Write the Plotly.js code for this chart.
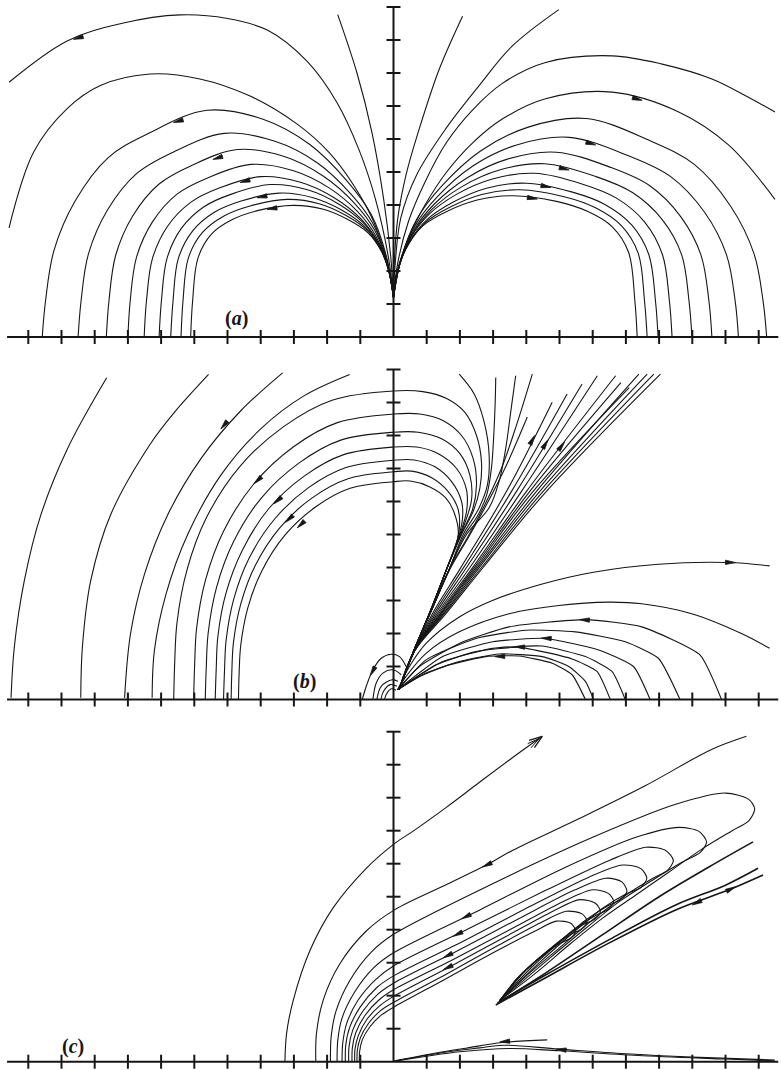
<!DOCTYPE html>
<html>
<head>
<meta charset="utf-8">
<script src="https://cdn.plot.ly/plotly-3.0.1.min.js"></script>
<style>
  html, body { margin: 0; padding: 0; background: #ffffff; }
  #chart { width: 781px; height: 1070px; }
</style>
</head>
<body>
<div id="chart"></div>
<script>
// ---------- Panel (a): streamlines leaving the point (0, 1.2) ----------
const streamsA_axisNear = [
  [[-1.68,9.77],[-1.1,8.0],[-0.65,6.2],[-0.3,4.2],[-0.08,2.4],[0,1.2]],
  [[2.08,9.72],[1.38,8.12],[0.78,6.32],[0.38,4.92],[0.13,3.61],[0.02,2.2],[0,1.2]],
  [[4.98,9.92],[3.58,8.82],[2.58,7.62],[1.58,6.32],[0.7,4.92],[0.22,3.61],[0.05,2.2],[0,1.2]]
];
const streamsA_left = [
  [[-11.58,7.72],[-9.83,8.97],[-8.2,9.5],[-6.43,9.76],[-5.0,9.65],[-3.8,9.3],[-2.6,8.35],[-1.7,7.1],[-1.05,5.7],[-0.55,4.2],[-0.15,2.4],[0,1.2]],
  [[-11.58,3.31],[-10.83,5.62],[-9.83,6.92],[-8.83,7.62],[-7.33,7.97],[-5.83,7.82],[-4.32,7.3],[-2.9,6.45],[-1.95,5.6],[-1.2,4.6],[-0.6,3.5],[-0.18,2.2],[0,1.2]],
  [[-10.58,0],[-10.48,1.1],[-10.23,2.61],[-9.59,4.12],[-8.6,5.43],[-7.36,6.18],[-5.62,6.87],[-3.93,6.6],[-2.53,5.84],[-1.41,4.74],[-0.67,3.71],[-0.22,2.47],[0,1.2]],
  [[-9.5,0],[-9.41,1.1],[-9.19,2.51],[-8.62,3.84],[-7.74,4.95],[-6.64,5.6],[-5.1,6.17],[-3.57,5.93],[-2.3,5.28],[-1.28,4.33],[-0.61,3.42],[-0.2,2.32],[0,1.2]],
  [[-8.65,0],[-8.57,1.1],[-8.37,2.47],[-7.86,3.66],[-7.07,4.63],[-6.08,5.2],[-4.7,5.68],[-3.29,5.47],[-2.12,4.88],[-1.18,4.06],[-0.56,3.22],[-0.19,2.23],[0,1.2]],
  [[-8.0,0],[-7.93,1.1],[-7.74,2.42],[-7.26,3.49],[-6.52,4.33],[-5.6,4.82],[-4.3,5.23],[-3.01,5.04],[-1.94,4.52],[-1.08,3.8],[-0.52,3.04],[-0.17,2.14],[0,1.2]],
  [[-7.51,0],[-7.44,1.1],[-7.26,2.38],[-6.81,3.35],[-6.11,4.08],[-5.23,4.52],[-4.0,4.86],[-2.8,4.69],[-1.8,4.23],[-1.0,3.6],[-0.48,2.89],[-0.16,2.07],[0,1.2]],
  [[-7.06,0],[-6.99,1.1],[-6.82,2.39],[-6.39,3.29],[-5.72,3.94],[-4.88,4.33],[-3.7,4.62],[-2.59,4.46],[-1.67,4.04],[-0.93,3.48],[-0.44,2.81],[-0.15,2.04],[0,1.2]],
  [[-6.71,0],[-6.64,1.1],[-6.48,2.38],[-6.06,3.2],[-5.41,3.77],[-4.59,4.12],[-3.45,4.36],[-2.42,4.22],[-1.55,3.84],[-0.86,3.34],[-0.41,2.71],[-0.14,1.99],[0,1.2]],
  [[-6.4,0],[-6.34,1.1],[-6.18,2.39],[-5.76,3.16],[-5.12,3.66],[-4.32,3.97],[-3.2,4.17],[-2.24,4.04],[-1.44,3.69],[-0.8,3.24],[-0.38,2.65],[-0.13,1.98],[0,1.2]],
  [[-6.11,0],[-6.05,1.1],[-5.89,2.39],[-5.49,3.11],[-4.87,3.55],[-4.1,3.83],[-3.02,3.99],[-2.11,3.87],[-1.36,3.55],[-0.76,3.15],[-0.36,2.59],[-0.12,1.96],[0,1.2]]
];
const streamsA_right = [
  [[0,1.2],[0.12,2.2],[0.45,3.5],[0.95,4.7],[1.6,5.9],[2.4,6.9],[3.3,7.7],[4.58,8.32],[6.59,8.52],[8.09,8.27],[9.59,7.82],[10.59,7.32],[11.49,6.82]],
  [[0,1.2],[0.12,2.0],[0.45,3.0],[0.95,4.0],[1.6,5.0],[2.4,5.9],[3.3,6.62],[4.58,7.22],[6.59,7.42],[8.59,6.82],[10.09,5.82],[11.49,4.17]],
  [[11.24,0],[11.13,1.1],[10.86,2.52],[10.15,3.97],[9.06,5.23],[7.7,5.96],[5.8,6.62],[4.06,6.36],[2.61,5.63],[1.45,4.57],[0.7,3.57],[0.23,2.38],[0,1.2]],
  [[10.39,0],[10.29,1.1],[10.03,2.49],[9.37,3.78],[8.35,4.86],[7.08,5.49],[5.3,6.05],[3.71,5.82],[2.39,5.18],[1.33,4.26],[0.64,3.36],[0.21,2.29],[0,1.2]],
  [[9.59,0],[9.5,1.1],[9.26,2.49],[8.65,3.65],[7.71,4.59],[6.54,5.14],[4.9,5.6],[3.43,5.39],[2.21,4.82],[1.23,4.03],[0.59,3.2],[0.2,2.23],[0,1.2]],
  [[8.99,0],[8.9,1.1],[8.68,2.49],[8.1,3.55],[7.21,4.37],[6.1,4.86],[4.55,5.25],[3.19,5.06],[2.05,4.55],[1.14,3.85],[0.55,3.08],[0.18,2.18],[0,1.2]],
  [[8.39,0],[8.31,1.1],[8.1,2.5],[7.56,3.49],[6.73,4.2],[5.7,4.63],[4.25,4.96],[2.98,4.79],[1.91,4.33],[1.06,3.71],[0.51,2.99],[0.17,2.15],[0,1.2]],
  [[7.97,0],[7.89,1.1],[7.69,2.5],[7.18,3.39],[6.38,4.01],[5.39,4.39],[4.0,4.66],[2.8,4.51],[1.8,4.09],[1.0,3.55],[0.48,2.88],[0.16,2.11],[0,1.2]],
  [[7.64,0],[7.56,1.1],[7.37,2.54],[6.87,3.37],[6.1,3.91],[5.14,4.25],[3.8,4.46],[2.66,4.32],[1.71,3.94],[0.95,3.46],[0.46,2.83],[0.15,2.1],[0,1.2]],
  [[7.34,0],[7.27,1.1],[7.08,2.57],[6.59,3.34],[5.84,3.81],[4.91,4.11],[3.6,4.28],[2.52,4.15],[1.62,3.81],[0.9,3.38],[0.43,2.78],[0.14,2.1],[0,1.2]]
];
// arrows: [head x, head y, tail x, tail y]
const arrowsA = [
  [-9.64,9.02,-9.2,9.15], [-6.63,6.5,-6.2,6.62], [-5.44,5.38,-5.0,5.52],
  [-4.62,4.68,-4.2,4.8], [-4.11,4.22,-3.7,4.3], [-3.81,3.87,-3.4,3.93],
  [7.49,7.17,7.05,7.3], [6.09,5.82,5.65,5.95], [5.29,5.06,4.85,5.17],
  [4.74,4.53,4.3,4.62], [4.33,4.18,3.9,4.25]
];

// ---------- Panel (b) ----------
const streamsB_outer = [
  [[-8.64,9.75],[-9.82,7.6],[-10.62,5.6],[-11.12,3.6],[-11.42,1.6],[-11.52,0.05]],
  [[-5.57,9.85],[-6.6,8.7],[-7.32,7.75],[-8.52,5.6],[-9.12,3.6],[-9.37,1.6],[-9.42,0.05]],
  [[-3.34,9.9],[-4.6,8.75],[-5.8,7.3],[-6.8,5.6],[-7.5,3.8],[-7.92,2.0],[-8.1,0.05]],
  [[-1.32,9.85],[-2.7,9.2],[-4.0,8.2],[-5.2,6.8],[-6.2,5.0],[-6.85,3.2],[-7.2,1.5],[-7.27,0.05]]
];
const streamsB_arcs = [
  [[0.17,0.3],[0.6,1.45],[1.1,2.65],[1.6,3.95],[2.05,5.0],[2.4,5.7],[2.6,6.4],[2.65,7.2],[2.5,8.0],[2.15,8.7],[1.6,9.12],[0.88,9.33],[0,9.35],[-1.85,9.07],[-3.31,8.27],[-4.63,7.06],[-5.63,5.52],[-6.22,3.93],[-6.52,2.34],[-6.59,1.12],[-6.62,0]],
  [[0.17,0.3],[0.6,1.45],[1.1,2.65],[1.6,3.95],[2.03,5.0],[2.38,5.75],[2.5,6.5],[2.4,7.3],[2.05,8.0],[1.5,8.45],[0.8,8.65],[0,8.65],[-1.69,8.39],[-3.01,7.66],[-4.21,6.53],[-5.12,5.1],[-5.66,3.63],[-5.93,2.16],[-5.99,1.04],[-6.02,0]],
  [[0.17,0.3],[0.6,1.45],[1.1,2.65],[1.6,3.95],[2.02,5.0],[2.35,6.05],[2.3,6.8],[2.0,7.45],[1.45,7.9],[0.75,8.1],[0,8.1],[-1.59,7.86],[-2.84,7.17],[-3.97,6.12],[-4.82,4.78],[-5.33,3.4],[-5.58,2.03],[-5.64,0.97],[-5.67,0]],
  [[0.17,0.3],[0.6,1.45],[1.1,2.65],[1.6,3.95],[2.0,5.0],[2.2,5.7],[2.2,6.35],[1.9,7.0],[1.35,7.45],[0.7,7.65],[0,7.65],[-1.5,7.42],[-2.69,6.77],[-3.76,5.78],[-4.56,4.51],[-5.05,3.21],[-5.29,1.91],[-5.34,0.92],[-5.37,0]],
  [[0.17,0.3],[0.6,1.45],[1.1,2.65],[1.6,3.95],[1.98,5.0],[2.08,5.5],[2.05,6.0],[1.75,6.6],[1.25,7.05],[0.62,7.26],[0,7.25],[-1.43,7.03],[-2.56,6.42],[-3.58,5.47],[-4.35,4.28],[-4.81,3.05],[-5.04,1.81],[-5.09,0.87],[-5.12,0]],
  [[0.17,0.3],[0.6,1.45],[1.1,2.65],[1.6,3.95],[1.96,5.0],[1.95,5.75],[1.65,6.3],[1.15,6.72],[0.55,6.92],[0,6.9],[-1.37,6.69],[-2.45,6.11],[-3.42,5.21],[-4.16,4.07],[-4.6,2.9],[-4.82,1.73],[-4.87,0.83],[-4.89,0]],
  [[0.17,0.3],[0.6,1.45],[1.1,2.65],[1.6,3.95],[1.95,5.0],[1.85,5.6],[1.58,6.1],[1.08,6.45],[0.5,6.62],[0,6.6],[-1.31,6.4],[-2.34,5.84],[-3.27,4.98],[-3.97,3.89],[-4.39,2.77],[-4.6,1.65],[-4.65,0.79],[-4.67,0]]
];
const streamsB_bent = [
  [[0.17,0.3],[0.6,1.45],[1.12,2.65],[1.68,3.95],[2.1,5.0],[2.58,5.81],[2.83,6.51],[2.88,7.41],[2.73,8.41],[2.43,9.26],[1.98,9.86]],
  [[0.17,0.3],[0.6,1.45],[1.12,2.65],[1.68,3.95],[2.15,5.0],[2.53,5.56],[2.81,6.21],[2.95,7.01],[3.02,8.01],[3.06,8.91],[3.08,9.76]],
  [[0.17,0.3],[0.6,1.45],[1.12,2.65],[1.68,3.95],[2.2,5.0],[2.88,5.81],[3.18,6.61],[3.38,7.61],[3.53,8.71],[3.68,9.81]],
  [[0.17,0.3],[0.6,1.45],[1.12,2.65],[1.68,3.95],[2.25,4.95],[2.75,5.9],[3.25,7.0],[3.7,8.3],[4.18,9.86]],
  [[0.17,0.3],[0.6,1.45],[1.12,2.65],[1.7,3.95],[2.25,4.9],[2.8,5.9],[3.4,7.1],[4.03,8.56]]
];
const streamsB_fan = [
  [[0.17,0.3],[0.62,1.45],[1.2,2.65],[2.0,3.95],[3.4,6.3],[4.78,9.01]],
  [[0.17,0.3],[0.62,1.45],[1.25,2.65],[2.1,3.98],[3.55,6.3],[5.23,9.26]],
  [[0.17,0.3],[0.62,1.45],[1.3,2.65],[2.2,4.0],[3.7,6.3],[5.68,9.56]],
  [[0.17,0.3],[0.62,1.45],[1.33,2.62],[2.3,4.0],[3.85,6.3],[6.14,9.81]],
  [[0.17,0.3],[0.62,1.45],[1.36,2.6],[2.4,4.02],[4.0,6.3],[6.69,9.81]],
  [[0.17,0.3],[0.62,1.45],[1.4,2.6],[2.45,4.02],[4.1,6.3],[6.85,9.6]],
  [[0.17,0.3],[0.62,1.45],[1.43,2.6],[2.5,4.02],[4.2,6.3],[7.1,9.45]],
  [[0.17,0.3],[0.62,1.45],[1.46,2.6],[2.55,4.02],[4.3,6.3],[7.39,9.86]],
  [[0.17,0.3],[0.62,1.45],[1.5,2.6],[2.6,4.02],[4.4,6.3],[7.64,9.86]],
  [[0.17,0.3],[0.62,1.45],[1.53,2.6],[2.65,4.0],[4.5,6.3],[7.84,9.86]],
  [[0.17,0.3],[0.62,1.45],[1.58,2.6],[2.7,4.0],[4.6,6.3],[8.04,9.86]]
];
const streamsB_low = [
  [[0.13,0.3],[0.48,1.0],[0.98,1.7],[1.98,2.5],[2.98,3.0],[4.48,3.5],[5.98,3.85],[7.98,4.1],[10.08,4.15],[11.33,4.05]],
  [[0.13,0.3],[0.38,0.7],[0.98,1.4],[1.98,2.05],[3.48,2.6],[4.98,2.85],[6.48,2.95],[7.48,2.9],[8.98,2.6],[10.48,2.0],[11.33,1.55]]
];
const streamsB_return = [
  [[0.13,0.3],[0.78,1.0],[1.98,1.7],[3.48,2.2],[5.78,2.42],[7.48,2.2],[9.23,1.35],[9.88,0]],
  [[0.13,0.3],[0.98,1.2],[2.48,1.85],[3.98,2.1],[5.48,2.05],[6.98,1.75],[7.98,1.25],[8.63,0]],
  [[0.13,0.3],[1.48,1.3],[2.98,1.75],[4.58,1.85],[6.18,1.5],[7.23,1.0],[7.73,0]],
  [[0.13,0.3],[1.48,1.15],[2.98,1.55],[4.48,1.62],[5.78,1.3],[6.58,0.85],[6.98,0]],
  [[0.13,0.3],[1.28,1.05],[2.48,1.45],[3.78,1.58],[5.38,1.23],[6.13,0.85],[6.53,0]],
  [[0.13,0.3],[0.98,0.8],[1.98,1.15],[3.18,1.38],[4.48,1.3],[5.28,1.0],[5.78,0.55],[6.03,0]],
  [[0.13,0.3],[0.78,0.7],[1.68,1.05],[2.78,1.3],[3.78,1.32],[4.78,1.1],[5.38,0.75],[5.78,0]]
];
const streamsB_core = [
  [[0.38,1.0],[0.18,1.3],[-0.07,1.37],[-0.37,1.25],[-0.62,0.9],[-0.82,0.4],[-0.94,0]],
  [[0.23,0.75],[-0.02,0.9],[-0.32,0.8],[-0.52,0.5],[-0.62,0]],
  [[0.13,0.55],[-0.04,0.6],[-0.37,0.4],[-0.5,0]],
  [[0.1,0.4],[-0.1,0.45],[-0.3,0.25],[-0.38,0]],
  [[0.08,0.28],[-0.08,0.32],[-0.22,0.15],[-0.27,0]]
];
const arrowsB = [
  [-5.2,8.2,-4.95,8.5], [-4.2,6.54,-3.9,6.82], [-3.6,5.93,-3.3,6.2], [-3.25,5.37,-2.95,5.65],
  [-2.9,5.2,-2.6,5.48],
  [4.25,8.0,4.05,7.62], [4.65,7.87,4.42,7.48], [5.15,7.8,4.85,7.4],
  [10.3,4.15,9.85,4.16], [5.6,2.42,6.05,2.4], [4.45,1.86,4.9,1.84], [3.65,1.6,4.1,1.58], [3.05,1.3,3.5,1.31],
  [-0.7,0.72,-0.55,1.0]
];

// ---------- Panel (c) ----------
const streamsC_open = [
  [[-3.27,0],[-3.22,0.86],[-3.02,1.86],[-2.52,3.36],[-1.82,4.66],[-0.82,5.86],[0.03,6.61],[0.58,6.98],[1.58,7.7],[2.58,8.46],[3.58,9.21],[4.48,9.86]],
  [[-2.34,0],[-2.32,0.86],[-2.12,1.86],[-1.62,2.96],[-0.82,3.96],[0.03,4.6],[1.58,5.36],[2.78,5.95],[3.58,6.4],[5.58,7.36],[7.58,8.36],[9.58,9.46],[10.63,9.86]]
];
const streamsC_loops = [
  [[-1.9,0],[-1.88,0.73],[-1.73,1.54],[-1.31,2.47],[-0.67,3.32],[0,3.86],[3.0,5.4],[6.0,6.8],[8.5,7.8],[10.0,8.14],[10.7,7.95],[10.88,7.66],[10.7,7.3],[10.2,7.0],[9.3,6.45],[8.3,5.75],[7.3,5.05],[6.3,4.35],[5.3,3.55],[4.3,2.7],[3.2,1.85]],
  [[-1.7,0],[-1.68,0.63],[-1.55,1.32],[-1.17,2.11],[-0.6,2.84],[0,3.3],[2.6,4.6],[5.2,5.9],[7.3,6.8],[8.6,7.1],[9.2,6.98],[9.43,6.66],[9.25,6.35],[8.7,6.05],[7.8,5.5],[6.8,4.85],[5.8,4.05],[4.6,3.05],[3.2,1.85]],
  [[-1.55,0],[-1.53,0.55],[-1.41,1.16],[-1.07,1.86],[-0.54,2.49],[0,2.9],[2.3,4.05],[4.6,5.2],[6.5,6.1],[7.6,6.5],[8.2,6.4],[8.43,6.1],[8.25,5.8],[7.8,5.55],[7.0,5.05],[6.0,4.3],[5.0,3.45],[4.0,2.6],[3.2,1.85]],
  [[-1.45,0],[-1.44,0.49],[-1.32,1.04],[-1.0,1.66],[-0.51,2.24],[0,2.6],[2.1,3.65],[4.1,4.7],[5.9,5.6],[6.9,5.96],[7.45,5.85],[7.63,5.56],[7.45,5.28],[7.0,5.08],[6.3,4.65],[5.4,3.9],[4.5,3.1],[3.2,1.85]],
  [[-1.35,0],[-1.34,0.45],[-1.23,0.95],[-0.93,1.52],[-0.47,2.05],[0,2.38],[1.9,3.35],[3.8,4.35],[5.45,5.2],[6.4,5.56],[6.88,5.45],[7.03,5.16],[6.85,4.92],[6.45,4.72],[5.8,4.3],[5.0,3.62],[4.2,2.9],[3.2,1.85]],
  [[-1.25,0],[-1.24,0.41],[-1.14,0.87],[-0.86,1.4],[-0.44,1.87],[0,2.18],[1.8,3.1],[3.6,4.05],[5.1,4.85],[6.0,5.21],[6.47,5.1],[6.63,4.86],[6.47,4.62],[6.1,4.44],[5.5,4.05],[4.8,3.48],[4.0,2.78],[3.2,1.85]],
  [[-1.17,0],[-1.16,0.38],[-1.06,0.79],[-0.81,1.27],[-0.41,1.7],[0,1.98],[1.7,2.88],[3.4,3.8],[4.8,4.56],[5.6,4.91],[6.08,4.8],[6.23,4.56],[6.08,4.33],[5.7,4.15],[5.2,3.8],[4.6,3.33],[3.9,2.7],[3.2,1.85]],
  [[-1.1,0],[-1.09,0.34],[-1.0,0.72],[-0.76,1.15],[-0.39,1.55],[0,1.8],[1.6,2.66],[3.2,3.55],[4.5,4.25],[5.2,4.56],[5.68,4.48],[5.83,4.26],[5.68,4.03],[5.35,3.86],[4.9,3.55],[4.4,3.15],[3.8,2.6],[3.2,1.85]],
  [[-1.03,0],[-1.02,0.31],[-0.94,0.66],[-0.71,1.06],[-0.36,1.42],[0,1.65],[1.5,2.47],[3.0,3.3],[4.25,3.95],[4.9,4.26],[5.35,4.19],[5.48,3.96],[5.33,3.74],[5.0,3.58],[4.6,3.3],[4.2,2.98],[3.7,2.5],[3.2,1.85]]
];
const streamsC_bundle = [
  [[3.08,1.72],[4.5,2.5],[6.5,3.6],[8.5,4.6],[10.08,5.2],[11.13,5.66]],
  [[3.13,1.78],[4.5,2.58],[6.5,3.7],[8.5,4.75],[10.0,5.35],[10.98,5.86]],
  [[3.2,1.82],[4.6,2.7],[6.3,3.85],[8.0,5.0],[9.5,5.9],[10.83,6.66]]
];
const streamsC_floor = [
  [[0.03,0.03],[1.2,0.25],[2.18,0.41],[3.28,0.58],[4.63,0.66]],
  [[0.03,0.02],[1.5,0.28],[2.6,0.42],[3.3,0.5],[4.98,0.38],[7.0,0.24],[9.0,0.14],[11.48,0.05]],
  [[0.03,0.01],[2.0,0.3],[3.5,0.4],[5.0,0.33],[7.5,0.18],[10.0,0.08],[11.48,0.03]]
];
const arrowsC = [
  [2.68,5.9,3.1,6.1], [2.05,4.33,2.45,4.53], [1.8,3.8,2.2,4.0], [1.5,3.15,1.9,3.35], [1.5,2.79,1.9,2.98],
  [9.0,4.75,9.4,4.95], [10.3,5.3,9.9,5.1], [3.2,0.6,3.6,0.63], [4.9,0.38,5.3,0.34]
];
const arrowTipC = [4.48,9.86,4.1,9.58];

// ---------- Axes and labels ----------
const xTicks = [-11,-10,-9,-8,-7,-6,-5,-4,-3,-2,-1,1,2,3,4,5,6,7,8,9,10,11];
const yTicks = [1,2,3,4,5,6,7,8,9,10];
const panelLabels = ['(<i>a</i>)', '(<i>b</i>)', '(<i>c</i>)'];
const labelPos = [[-4.74,0.57], [-2.67,0.54], [-9.64,0.45]];

// ---------- Layout geometry (pixels) ----------
const W = 781, H = 1070;
const X0 = 393.5, SX = 33.2, SY = 33.0;
const frames = [
  {top: 0,   bottom: 350,  base: 337},
  {top: 350, bottom: 712,  base: 699.5},
  {top: 712, bottom: 1070, base: 1061.7}
];
const INK = '#161616';

const traces = [];
const annotations = [];
const axNames = [['x','y'], ['x2','y2'], ['x3','y3']];

function addCurves(list, p, opts) {
  opts = opts || {};
  list.forEach(c => {
    traces.push({
      type: 'scatter', mode: 'lines',
      x: c.map(q => q[0]), y: c.map(q => q[1]),
      xaxis: axNames[p][0], yaxis: axNames[p][1],
      line: {color: INK, width: opts.width || 1.1, shape: 'spline', smoothing: opts.smoothing == null ? 1 : opts.smoothing},
      hoverinfo: 'skip', showlegend: false
    });
  });
}
// narrow dart-shaped heads, sized in pixels and oriented from tail to head
function addArrows(list, p, open) {
  list.forEach(a => {
    let ux = (a[0] - a[2]) * SX, uy = (a[1] - a[3]) * SY;
    const n = Math.hypot(ux, uy); ux /= n; uy /= n;
    const len = open ? 13 : 10, half = open ? 4.5 : 2.2;
    const bx = a[0] - ux * len / SX, by = a[1] - uy * len / SY;
    const b1 = [bx - uy * half / SX, by + ux * half / SY];
    const b2 = [bx + uy * half / SX, by - ux * half / SY];
    const base = {type: 'scatter', xaxis: axNames[p][0], yaxis: axNames[p][1], hoverinfo: 'skip', showlegend: false};
    if (open) {
      traces.push(Object.assign({}, base, {mode: 'lines', x: [b1[0], a[0], b2[0]], y: [b1[1], a[1], b2[1]],
        line: {color: INK, width: 1.3}}));
      const c1 = [bx - ux * 3 / SX - uy * half * 0.6 / SX, by - uy * 3 / SY + ux * half * 0.6 / SY];
      const c2 = [bx - ux * 3 / SX + uy * half * 0.6 / SX, by - uy * 3 / SY - ux * half * 0.6 / SY];
      traces.push(Object.assign({}, base, {mode: 'lines', x: [c1[0], a[0] - ux * 4 / SX, c2[0]], y: [c1[1], a[1] - uy * 4 / SY, c2[1]],
        line: {color: INK, width: 1}}));
    } else {
      traces.push(Object.assign({}, base, {mode: 'lines', x: [a[0], b1[0], b2[0], a[0]], y: [a[1], b1[1], b2[1], a[1]],
        fill: 'toself', fillcolor: INK, line: {color: INK, width: 0.8}}));
    }
  });
}
function addAxes(p) {
  const xa = axNames[p][0], ya = axNames[p][1];
  traces.push({type:'scatter', mode:'lines', x:[-11.64, 11.59], y:[0,0], xaxis:xa, yaxis:ya,
    line:{color:INK, width:2}, hoverinfo:'skip', showlegend:false});
  traces.push({type:'scatter', mode:'lines', x:[0,0], y:[0,10], xaxis:xa, yaxis:ya,
    line:{color:INK, width:2}, hoverinfo:'skip', showlegend:false});
  traces.push({type:'scatter', mode:'markers', x:xTicks, y:xTicks.map(() => 0), xaxis:xa, yaxis:ya,
    marker:{symbol:'line-ns', size:10, line:{color:INK, width:2}}, hoverinfo:'skip', showlegend:false});
  traces.push({type:'scatter', mode:'markers', x:yTicks.map(() => 0), y:yTicks, xaxis:xa, yaxis:ya,
    marker:{symbol:'line-ew', size:10, line:{color:INK, width:2}}, hoverinfo:'skip', showlegend:false});
  annotations.push({xref:xa, yref:ya, x:labelPos[p][0], y:labelPos[p][1], text:'<b>' + panelLabels[p] + '</b>',
    showarrow:false, font:{family:'Liberation Serif, DejaVu Serif, serif', size:20, color:INK}});
}

// panel (a)
addCurves(streamsA_axisNear, 0);
addCurves(streamsA_left, 0);
addCurves(streamsA_right, 0);
addArrows(arrowsA, 0);
addAxes(0);
// panel (b)
addCurves(streamsB_outer, 1);
addCurves(streamsB_arcs, 1);
addCurves(streamsB_bent, 1);
addCurves(streamsB_fan, 1);
addCurves(streamsB_low, 1);
addCurves(streamsB_return, 1, {smoothing: 0.5});
addCurves(streamsB_core, 1);
addArrows(arrowsB, 1);
addAxes(1);
// panel (c)
addCurves(streamsC_open, 2);
addCurves(streamsC_loops, 2, {smoothing: 0.8});
addCurves(streamsC_bundle, 2, {width: 1.6});
addCurves(streamsC_floor, 2);
addArrows(arrowsC, 2);
addArrows([arrowTipC], 2, true);
addAxes(2);

const layout = {
  width: W, height: H,
  margin: {l: 0, r: 0, t: 0, b: 0},
  paper_bgcolor: '#ffffff', plot_bgcolor: 'rgba(0,0,0,0)',
  showlegend: false,
  annotations: annotations
};
frames.forEach((f, i) => {
  const sfx = i === 0 ? '' : String(i + 1);
  layout['xaxis' + sfx] = {
    visible: false, domain: [0, 1], range: [-X0 / SX, (W - X0) / SX],
    anchor: 'y' + sfx, fixedrange: true
  };
  layout['yaxis' + sfx] = {
    visible: false, domain: [1 - f.bottom / H, 1 - f.top / H],
    range: [-(f.bottom - f.base) / SY, (f.base - f.top) / SY],
    anchor: 'x' + sfx, fixedrange: true
  };
});

Plotly.newPlot('chart', traces, layout, {staticPlot: true, displayModeBar: false});
</script>
</body>
</html>
